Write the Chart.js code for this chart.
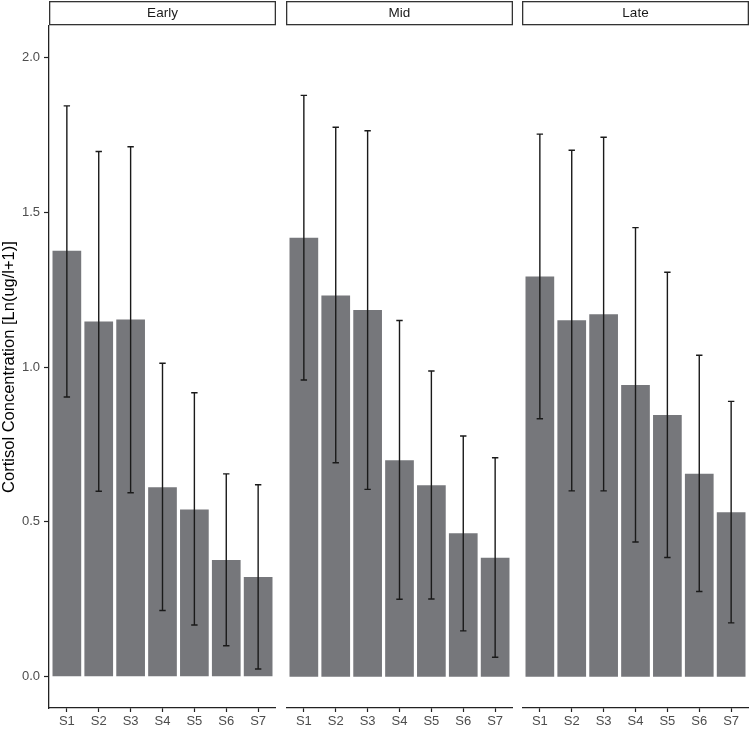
<!DOCTYPE html>
<html>
<head>
<meta charset="utf-8">
<script src="https://cdn.jsdelivr.net/npm/chart.js@4/dist/chart.umd.min.js"></script>
<style>
  html, body { margin: 0; padding: 0; background: #ffffff; }
  #wrap { position: relative; width: 750px; height: 732px; overflow: hidden; background: #ffffff; }
  canvas { position: absolute; top: 0; }
</style>
</head>
<body>
<div id="wrap">
  <canvas id="c0" width="276" height="732" style="left:0px"></canvas>
  <canvas id="c1" width="227" height="732" style="left:286px"></canvas>
  <canvas id="c2" width="227" height="732" style="left:522px"></canvas>
</div>
<script>
// ---- data ----
const categories = ['S1', 'S2', 'S3', 'S4', 'S5', 'S6', 'S7'];
const facets = ['Early', 'Mid', 'Late'];
const earlyMean  = [1.375, 1.147, 1.153, 0.612, 0.540, 0.377, 0.322];
const earlyUpper = [1.843, 1.696, 1.711, 1.012, 0.917, 0.655, 0.620];
const earlyLower = [0.903, 0.599, 0.594, 0.214, 0.167, 0.100, 0.025];
const midMean    = [1.417, 1.231, 1.184, 0.699, 0.618, 0.463, 0.384];
const midUpper   = [1.877, 1.774, 1.763, 1.150, 0.987, 0.777, 0.707];
const midLower   = [0.958, 0.691, 0.605, 0.250, 0.251, 0.148, 0.063];
const lateMean   = [1.292, 1.151, 1.170, 0.942, 0.845, 0.655, 0.531];
const lateUpper  = [1.752, 1.700, 1.742, 1.450, 1.306, 1.038, 0.889];
const lateLower  = [0.833, 0.600, 0.600, 0.435, 0.385, 0.275, 0.174];
const yTicks = [0, 0.5, 1.0, 1.5, 2.0];
const yTitle = 'Cortisol Concentration [Ln(ug/l+1)]';

const panelData = [
  { mean: earlyMean, upper: earlyUpper, lower: earlyLower },
  { mean: midMean,   upper: midUpper,   lower: midLower },
  { mean: lateMean,  upper: lateUpper,  lower: lateLower }
];

Chart.defaults.font.family = "'Liberation Sans', Arial, Helvetica, sans-serif";
Chart.defaults.animation = false;

const BAR = '#76777b';
const INK = '#1a1a1a';
const AXIS = '#222222';

const errorBarPlugin = {
  id: 'errorBars',
  afterDatasetsDraw(chart, args, opts) {
    const ctx = chart.ctx;
    const xs = chart.scales.x, ys = chart.scales.y;
    ctx.save();
    ctx.strokeStyle = INK;
    ctx.lineWidth = 1.4;
    opts.upper.forEach((u, i) => {
      const x = xs.getPixelForValue(i + 1);
      const y1 = ys.getPixelForValue(u);
      const y2 = ys.getPixelForValue(opts.lower[i]);
      const hw = 3.2;
      ctx.beginPath();
      ctx.moveTo(x, y1); ctx.lineTo(x, y2);
      ctx.moveTo(x - hw, y1); ctx.lineTo(x + hw, y1);
      ctx.moveTo(x - hw, y2); ctx.lineTo(x + hw, y2);
      ctx.stroke();
    });
    ctx.restore();
  }
};

const stripPlugin = {
  id: 'strip',
  afterDraw(chart, args, opts) {
    const ctx = chart.ctx;
    const a = chart.chartArea;
    ctx.save();
    ctx.fillStyle = '#ffffff';
    ctx.fillRect(a.left, 1, a.right - a.left, 24);
    ctx.strokeStyle = '#333333';
    ctx.lineWidth = 1.3;
    ctx.strokeRect(a.left + 0.65, 1.65, a.right - a.left - 1.3, 23);
    ctx.fillStyle = INK;
    ctx.font = "13.5px 'Liberation Sans', Arial, sans-serif";
    ctx.textAlign = 'center';
    ctx.textBaseline = 'middle';
    ctx.fillText(opts.label, (a.left + a.right) / 2, 13.5);
    ctx.restore();
  }
};

function makeChart(id, idx) {
  const showY = idx === 0;
  const d = panelData[idx];
  return new Chart(document.getElementById(id), {
    type: 'bar',
    data: {
      datasets: [{
        data: d.mean.map((v, i) => ({ x: i + 1, y: v })),
        backgroundColor: BAR,
        borderWidth: 0,
        barPercentage: 0.9,
        categoryPercentage: 1.0
      }]
    },
    plugins: [errorBarPlugin, stripPlugin],
    options: {
      responsive: false,
      animation: false,
      layout: { padding: { top: 26, left: 0, right: 0, bottom: 0 } },
      plugins: {
        legend: { display: false },
        tooltip: { enabled: false },
        errorBars: { upper: d.upper, lower: d.lower },
        strip: { label: facets[idx] }
      },
      scales: {
        x: {
          type: 'linear',
          min: 0.44,
          max: 7.56,
          offset: false,
          afterBuildTicks: (s) => { s.ticks = categories.map((c, i) => ({ value: i + 1 })); },
          afterFit: (s) => { s.height = 24; },
          ticks: {
            callback: (v) => categories[Math.round(v) - 1],
            color: '#4d4d4d',
            font: { size: 13 },
            padding: 2,
            maxRotation: 0,
            autoSkip: false,
            includeBounds: false
          },
          grid: { offset: false, drawOnChartArea: false, drawTicks: true, tickLength: 4, tickColor: AXIS, tickWidth: 1.2 },
          border: { display: true, color: AXIS, width: 1.3 }
        },
        y: {
          display: showY,
          min: -0.101,
          max: 2.101,
          afterBuildTicks: (s) => { s.ticks = yTicks.map(v => ({ value: v })); },
          afterFit: (s) => { if (showY) s.width = 49; },
          ticks: {
            callback: (v) => Number(v).toFixed(1),
            color: '#4d4d4d',
            font: { size: 13 },
            padding: 4,
            includeBounds: false
          },
          grid: { offset: false, drawOnChartArea: false, drawTicks: true, tickLength: 5, tickColor: AXIS, tickWidth: 1.2 },
          border: { display: true, color: AXIS, width: 1.3 },
          title: {
            display: true,
            text: yTitle,
            color: '#000000',
            font: { size: 16.5 },
            padding: { top: 0, bottom: 0 }
          }
        }
      }
    }
  });
}

makeChart('c0', 0);
makeChart('c1', 1);
makeChart('c2', 2);
</script>
</body>
</html>
